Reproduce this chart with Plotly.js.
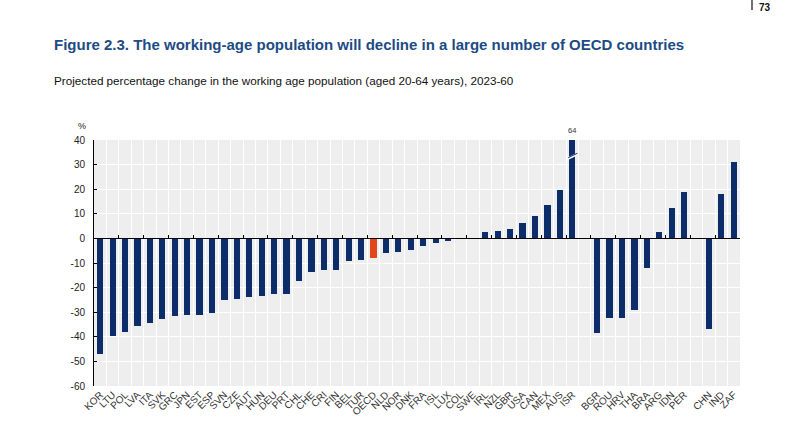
<!DOCTYPE html>
<html>
<head>
<meta charset="utf-8">
<script src="https://cdn.plot.ly/plotly-3.0.1.min.js"></script>
<style>html,body{margin:0;padding:0;background:#fff;}#chart{width:800px;height:426px;}</style>
</head>
<body>
<div id="chart"></div>
<script>
const categories = ['KOR','LTU','POL','LVA','ITA','SVK','GRC','JPN','EST','ESP','SVN','CZE','AUT','HUN','DEU','PRT','CHL','CHE','CRI','FIN','BEL','TUR','OECD','NLD','NOR','DNK','FRA','ISL','LUX','COL','SWE','IRL','NZL','GBR','USA','CAN','MEX','AUS','ISR',' ','BGR','ROU','HRV','THA','BRA','ARG','IDN','PER','  ','CHN','IND','ZAF'];
const values = [-46.9,-39.8,-38.0,-35.5,-34.2,-32.8,-31.5,-31.2,-31.1,-30.4,-25.0,-24.7,-23.8,-23.4,-22.7,-22.4,-17.3,-13.5,-13.0,-12.8,-9.3,-8.8,-8.1,-5.9,-5.5,-4.7,-3.2,-1.8,-1.1,0.3,0.3,2.8,3.2,3.8,6.2,9.2,13.5,19.5,64,null,-38.5,-32.4,-32.3,-29.1,-12.2,2.6,12.4,18.8,null,-36.9,18.2,30.9];
const highlight = 'OECD';
const truncated = 'ISR';
const yTicks = [-60,-50,-40,-30,-20,-10,0,10,20,30,40];

const navy = '#0c2d69';
const red = '#e2441c';
const colors = categories.map(c => c === highlight ? red : navy);
const n = categories.length;
const iTrunc = categories.indexOf(truncated);

const bars = {
  type: 'bar', x: categories, y: values, marker: {color: colors},
  width: 0.5, hoverinfo: 'x+y', xaxis: 'x', yaxis: 'y'
};
const ticker = {
  type: 'scatter', mode: 'markers', x: categories, y: categories.map(() => 0),
  marker: {opacity: 0, size: 1}, hoverinfo: 'skip', xaxis: 'x2', yaxis: 'y', showlegend: false
};

const font = 'Liberation Sans, Arial, sans-serif';

const layout = {
  width: 800, height: 426, autosize: false,
  margin: {l: 94, r: 60, t: 140, b: 40},
  paper_bgcolor: '#ffffff', plot_bgcolor: '#eeeeee',
  showlegend: false, bargap: 0,
  font: {family: font, color: '#222', size: 9},
  title: {
    text: '<b>Figure 2.3. The working-age population will decline in a large number of OECD countries</b>',
    font: {family: font, size: 15, color: '#1d4b85'},
    x: 54/800, xanchor: 'left', xref: 'container',
    y: 1 - 45/426, yanchor: 'middle', yref: 'container'
  },
  xaxis: {
    type: 'category', categoryorder: 'array', categoryarray: categories,
    range: [-0.5, n - 0.5], tickson: 'boundaries',
    showgrid: true, gridcolor: '#ffffff', gridwidth: 1,
    ticks: '', showline: false, zeroline: false,
    tickangle: -45, tickfont: {family: font, size: 10, color: '#333'},
    fixedrange: true
  },
  xaxis2: {
    type: 'category', categoryorder: 'array', categoryarray: categories,
    range: [-0.5, n - 0.5], tickson: 'boundaries',
    overlaying: 'x', anchor: 'free', position: 0.6, side: 'bottom',
    showgrid: false, showline: true, linecolor: '#000', linewidth: 1,
    ticks: 'inside', ticklen: 3, tickcolor: '#000', showticklabels: false,
    zeroline: false, fixedrange: true
  },
  yaxis: {
    range: [-60, 40], tickvals: yTicks, ticktext: yTicks.map(String),
    showgrid: true, gridcolor: '#ffffff', gridwidth: 1,
    showline: true, linecolor: '#000', linewidth: 1,
    ticks: 'inside', ticklen: 3, tickcolor: '#000',
    ticklabelstandoff: 6,
    zeroline: false, tickfont: {family: font, size: 10, color: '#222'},
    fixedrange: true
  },
  annotations: [
    {text: 'Projected percentage change in the working age population (aged 20-64 years), 2023-60',
     xref: 'paper', yref: 'paper', x: (52-94)/646, y: 1 + (140-80)/246,
     xanchor: 'left', yanchor: 'middle', showarrow: false,
     font: {family: font, size: 11.7, color: '#111'}},
    {text: '%', xref: 'paper', yref: 'paper', x: (82-94)/646, y: 1 + (140-126)/246,
     xanchor: 'center', yanchor: 'middle', showarrow: false,
     font: {family: font, size: 9, color: '#222'}},
    {text: String(values[iTrunc]), xref: 'x', yref: 'paper', x: truncated, y: 1 + (140-130)/246,
     xanchor: 'center', yanchor: 'middle', showarrow: false,
     font: {family: font, size: 7.5, color: '#333'}},
    {text: '<b>73</b>', xref: 'paper', yref: 'paper', x: (757-94)/646, y: 1 + (140-7)/246,
     xanchor: 'left', yanchor: 'middle', showarrow: false,
     font: {family: font, size: 10, color: '#111'}}
  ],
  shapes: [
    {type: 'line', xref: 'x', yref: 'y', xsizemode: 'pixel', xanchor: iTrunc,
     x0: -5, x1: 5, y0: 32.3, y1: 34.3, line: {color: '#ffffff', width: 2.5}},
    {type: 'line', xref: 'x', yref: 'y', xsizemode: 'pixel', xanchor: iTrunc,
     x0: -4, x1: 5, y0: 32.8, y1: 34.6, line: {color: navy, width: 1}},
    {type: 'line', xref: 'paper', yref: 'paper', x0: (752-94)/646, x1: (752-94)/646,
     y0: 1 + (140-0)/246, y1: 1 + (140-10)/246, line: {color: '#111', width: 1.2}}
  ]
};

Plotly.newPlot('chart', [bars, ticker], layout, {displayModeBar: false, staticPlot: true});
</script>
</body>
</html>
